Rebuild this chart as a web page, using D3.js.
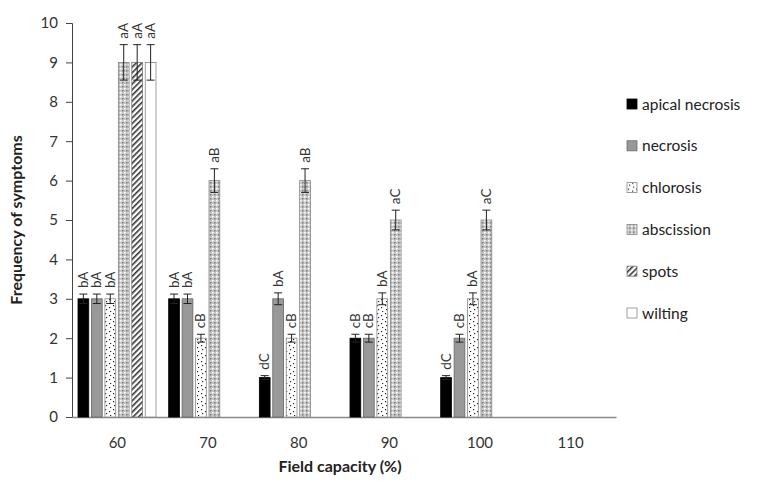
<!DOCTYPE html>
<html>
<head>
<meta charset="utf-8">
<script src="https://cdn.jsdelivr.net/npm/d3@7"></script>
<style>
  body { margin: 0; background: #fff; }
  text { font-family: Lato, "Open Sans", sans-serif; }
</style>
</head>
<body>
<svg id="chart" width="760" height="482"></svg>
<script>
// data
const categories = ["60", "70", "80", "90", "100", "110"];
const series = ["apical necrosis", "necrosis", "chlorosis", "abscission", "spots", "wilting"];
const apical = [3, 3, 1, 2, 1, 0];
const necrosis = [3, 3, 3, 2, 2, 0];
const chlorosis = [3, 2, 2, 3, 3, 0];
const abscission = [9, 6, 6, 5, 5, 0];
const spots = [9, 0, 0, 0, 0, 0];
const wilting = [9, 0, 0, 0, 0, 0];
const apicalErr = [0.12, 0.12, 0.05, 0.1, 0.05, 0];
const necrosisErr = [0.12, 0.12, 0.15, 0.1, 0.1, 0];
const chlorosisErr = [0.12, 0.1, 0.1, 0.15, 0.15, 0];
const abscissionErr = [0.45, 0.3, 0.3, 0.25, 0.25, 0];
const spotsErr = [0.45, 0, 0, 0, 0, 0];
const wiltingErr = [0.45, 0, 0, 0, 0, 0];
const apicalLbl = ["bA", "bA", "dC", "cB", "dC", ""];
const necrosisLbl = ["bA", "bA", "bA", "cB", "cB", ""];
const chlorosisLbl = ["bA", "cB", "cB", "bA", "bA", ""];
const abscissionLbl = ["aA", "aB", "aB", "aC", "aC", ""];
const spotsLbl = ["aA", "", "", "", "", ""];
const wiltingLbl = ["aA", "", "", "", "", ""];
const yTicks = [0, 1, 2, 3, 4, 5, 6, 7, 8, 9, 10];

const values = [apical, necrosis, chlorosis, abscission, spots, wilting];
const errs = [apicalErr, necrosisErr, chlorosisErr, abscissionErr, spotsErr, wiltingErr];
const lbls = [apicalLbl, necrosisLbl, chlorosisLbl, abscissionLbl, spotsLbl, wiltingLbl];

const svg = d3.select("#chart");

// patterns
const defs = svg.append("defs");
// chlorosis: white with scattered black dots
const pc = defs.append("pattern").attr("id", "pChl").attr("patternUnits", "userSpaceOnUse")
  .attr("width", 8).attr("height", 8);
pc.append("rect").attr("width", 8).attr("height", 8).attr("fill", "#fff");
[[1, 1], [5, 3], [2, 5], [6, 7]].forEach(p =>
  pc.append("rect").attr("x", p[0]).attr("y", p[1]).attr("width", 1.2).attr("height", 1.2).attr("fill", "#222"));
// abscission: light grey fine dots
const pa = defs.append("pattern").attr("id", "pAbs").attr("patternUnits", "userSpaceOnUse")
  .attr("width", 4).attr("height", 4);
pa.append("rect").attr("width", 4).attr("height", 4).attr("fill", "#c8c8c8");
pa.append("rect").attr("x", 0).attr("y", 0).attr("width", 1.5).attr("height", 1.5).attr("fill", "#fff");
pa.append("rect").attr("x", 2).attr("y", 2).attr("width", 1.5).attr("height", 1.5).attr("fill", "#7a7a7a");
// spots: diagonal hatch
const ps = defs.append("pattern").attr("id", "pSpots").attr("patternUnits", "userSpaceOnUse")
  .attr("width", 4).attr("height", 4).attr("patternTransform", "rotate(45)");
ps.append("rect").attr("width", 4).attr("height", 4).attr("fill", "#fff");
ps.append("rect").attr("width", 1.6).attr("height", 4).attr("fill", "#333");

const fills = ["#000", "#999", "url(#pChl)", "url(#pAbs)", "url(#pSpots)", "#fff"];
const strokes = ["#000", "#666", "#888", "#888", "#777", "#888"];

// scales
const x = d3.scaleBand().domain(categories).range([72, 616]);
const xs = d3.scaleBand().domain(series).range([6, 84]).paddingInner(0.2);
const y = d3.scaleLinear().domain([0, 10]).range([417, 23]);

// y axis
const yAxis = svg.append("g").attr("transform", "translate(72,0)")
  .call(d3.axisLeft(y).tickValues(yTicks).tickSize(6).tickPadding(8).tickFormat(d3.format("d")));
yAxis.select(".domain").attr("stroke", "#444");
yAxis.selectAll(".tick line").attr("stroke", "#444");
yAxis.selectAll("text").attr("font-size", 15).attr("fill", "#333").style("font-family", "Lato, sans-serif");

// x axis
const xAxis = svg.append("g").attr("transform", "translate(0,417)")
  .call(d3.axisBottom(x).tickSize(0).tickPadding(20));
xAxis.select(".domain").attr("stroke", "#888").attr("stroke-width", 1.5);
xAxis.selectAll("text").attr("font-size", 15).attr("fill", "#333").style("font-family", "Lato, sans-serif");

// bars
const flat = [];
values.forEach((arr, si) => arr.forEach((v, ci) => {
  flat.push({ s: series[si], si, c: categories[ci], v, e: errs[si][ci], l: lbls[si][ci] });
}));
const shown = flat.filter(d => d.v > 0);

const bw = xs.bandwidth();
svg.append("g").selectAll("rect").data(shown).join("rect")
  .attr("x", d => x(d.c) + xs(d.s))
  .attr("y", d => y(d.v))
  .attr("width", bw)
  .attr("height", d => y(0) - y(d.v))
  .attr("fill", d => fills[d.si])
  .attr("stroke", d => strokes[d.si])
  .attr("stroke-width", 0.8);

// error bars
const eg = svg.append("g").attr("stroke", "#222").attr("stroke-width", 1);
shown.forEach(d => {
  const cx = x(d.c) + xs(d.s) + bw / 2;
  eg.append("line").attr("x1", cx).attr("x2", cx).attr("y1", y(d.v - d.e)).attr("y2", y(d.v + d.e));
  eg.append("line").attr("x1", cx - 4).attr("x2", cx + 4).attr("y1", y(d.v + d.e)).attr("y2", y(d.v + d.e));
  eg.append("line").attr("x1", cx - 4).attr("x2", cx + 4).attr("y1", y(d.v - d.e)).attr("y2", y(d.v - d.e));
});

// letter labels
svg.append("g").selectAll("text").data(shown.filter(d => d.l)).join("text")
  .attr("transform", d => `translate(${x(d.c) + xs(d.s) + bw / 2 + 4.5},${y(d.v + d.e) - 6}) rotate(-90)`)
  .attr("font-size", 13.5)
  .attr("fill", "#333")
  .text(d => d.l);

// axis titles
svg.append("text").attr("x", 340).attr("y", 472).attr("text-anchor", "middle")
  .attr("font-size", 16).attr("font-weight", "bold").attr("fill", "#222").text("Field capacity (%)");
svg.append("text").attr("transform", "translate(22,220) rotate(-90)").attr("text-anchor", "middle")
  .attr("font-size", 16).attr("font-weight", "bold").attr("fill", "#222").text("Frequency of symptoms");

// legend
const lg = svg.append("g").selectAll("g").data(series).join("g")
  .attr("transform", (d, i) => `translate(627,${104 + i * 41.8})`);
lg.append("rect").attr("x", 0).attr("y", -5).attr("width", 10).attr("height", 10)
  .attr("fill", (d, i) => fills[i]).attr("stroke", (d, i) => strokes[i]).attr("stroke-width", 0.8);
lg.append("text").attr("x", 15).attr("y", 5.5).attr("font-size", 15.5).attr("fill", "#222").text(d => d);
</script>
</body>
</html>
